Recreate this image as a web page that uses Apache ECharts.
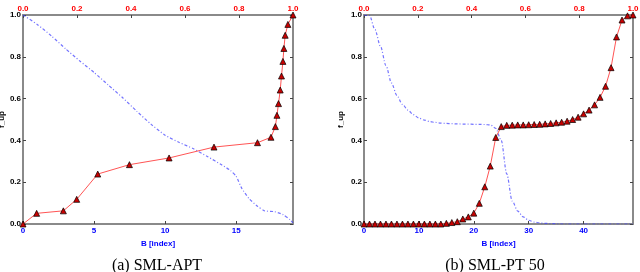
<!DOCTYPE html>
<html>
<head>
<meta charset="utf-8">
<script src="https://cdn.jsdelivr.net/npm/echarts@6/dist/echarts.min.js"></script>
<style>html,body{margin:0;padding:0;background:#fff;}#c{width:640px;height:272px;}</style>
</head>
<body>
<div id="c"></div>
<script>
// ---- data ----
const captions = ['(a) SML-APT', '(b) SML-PT 50'];
const bottomName = 'B [index]';
const topName = 'B';
const yName = 'f_up';

// left panel (SML-APT): red line with triangles [index, f_up]
const leftRed = [[0,0],[0.96,0.051],[2.84,0.063],[3.78,0.118],[5.26,0.239],[7.49,0.284],[10.28,0.316],
  [13.44,0.368],[16.5,0.389],[17.45,0.415],[17.76,0.466],[17.87,0.52],[17.98,0.576],[18.1,0.641],
  [18.19,0.708],[18.29,0.778],[18.36,0.84],[18.45,0.903],[18.64,0.955],[19,1.0]];
// left panel: blue dash-dot line [index, value]
const leftBlue = [[0,1.0],[1,0.955],[2,0.9],[3,0.838],[4,0.78],[5,0.725],[6,0.665],[7,0.605],[8,0.54],
  [9,0.478],[10,0.425],[11,0.39],[12,0.36],[13,0.322],[14,0.282],[14.6,0.256],[15,0.228],[15.4,0.17],
  [15.9,0.122],[16.5,0.085],[17,0.063],[17.7,0.059],[18.3,0.045],[18.8,0.02],[19,0.005]];

// right panel (SML-PT 50): values at index 0..49
const rightIndex = Array.from({length: 50}, (_, i) => i);
const rightRed = [0,0,0,0,0,0,0,0,0,0,0,0,0,0,0,
  0.003,0.007,0.011,0.024,0.034,0.052,0.099,0.178,0.277,0.414,0.466,0.472,0.473,0.474,0.474,
  0.475,0.476,0.477,0.479,0.481,0.484,0.487,0.492,0.5,0.511,0.527,0.545,0.57,0.606,0.659,
  0.748,0.895,0.976,0.996,1.0];
const rightBlue = [1.0,0.998,0.93,0.85,0.758,0.675,0.615,0.572,0.545,0.523,0.507,0.497,0.49,0.486,
  0.483,0.481,0.48,0.479,0.478,0.478,0.477,0.477,0.476,0.474,0.458,0.4,0.24,0.11,0.062,0.034,
  0.018,0.009,0.005,0.003,0.002,0.001,0,0,0,0,0,0,0,0,0,0,0,0,0,0];

const bottomMax = [19, 49];
const bottomInterval = [5, 10];

// ---- chart ----
const chart = echarts.init(document.getElementById('c'), null, {renderer: 'canvas'});
const F = 'Liberation Sans, Arial, sans-serif';
const FS = 8;
const frame = {show: true, onZero: false, lineStyle: {color: '#8a8a8a', width: 2}};
const tick = {show: true, inside: true, length: 3, lineStyle: {color: '#444', width: 1}};
const grids = [
  {left: 23, right: 347, top: 15, bottom: 48, outerBoundsMode: 'none', containLabel: false},
  {left: 364, right: 7, top: 15, bottom: 48, outerBoundsMode: 'none', containLabel: false}
];
const xAxes = [], yAxes = [];
grids.forEach((g, gi) => {
  xAxes.push({type: 'value', gridIndex: gi, position: 'bottom', min: 0, max: bottomMax[gi],
    interval: bottomInterval[gi], axisLine: frame, axisTick: tick, splitLine: {show: false},
    name: bottomName, nameLocation: 'middle', nameGap: 14,
    nameTextStyle: {color: '#0000ff', fontFamily: F, fontWeight: 'bold', fontSize: FS},
    axisLabel: {color: '#0000ff', fontFamily: F, fontWeight: 'bold', fontSize: FS, margin: 3,
      showMaxLabel: false}});
  xAxes.push({type: 'value', gridIndex: gi, position: 'top', min: 0, max: 1, interval: 0.2,
    axisLine: frame, axisTick: tick, splitLine: {show: false},
    name: topName, nameLocation: 'middle', nameGap: 13,
    nameTextStyle: {color: '#ff0000', fontFamily: F, fontWeight: 'bold', fontSize: FS},
    axisLabel: {color: '#ff0000', fontFamily: F, fontWeight: 'bold', fontSize: FS, margin: 2,
      formatter: v => v.toFixed(1)}});
  yAxes.push({type: 'value', gridIndex: gi, position: 'left', min: 0, max: 1, interval: 0.2,
    axisLine: frame, axisTick: tick, splitLine: {show: false},
    name: yName, nameLocation: 'middle', nameRotate: 90, nameGap: gi === 0 ? 17 : 19,
    nameTextStyle: {color: '#000', fontFamily: F, fontWeight: 'bold', fontSize: FS},
    axisLabel: {color: '#000', fontFamily: F, fontWeight: 'bold', fontSize: FS, margin: 2,
      formatter: v => v.toFixed(1)}});
  yAxes.push({type: 'value', gridIndex: gi, position: 'right', min: 0, max: 1, interval: 0.2,
    axisLine: frame, axisTick: tick, splitLine: {show: false}, axisLabel: {show: false}});
});

const redStyle = {
  type: 'line', symbol: 'triangle', symbolSize: 6, clip: false,
  itemStyle: {color: '#c80000', borderColor: '#000', borderWidth: 0.7},
  lineStyle: {color: '#ff5555', width: 1}, z: 3
};
const blueStyle = {
  type: 'line', symbol: 'none', clip: true,
  lineStyle: {color: 'rgba(70,70,255,0.75)', width: 1.2, type: [3, 2, 1, 2]}, z: 2
};

chart.setOption({
  animation: false,
  backgroundColor: '#fff',
  title: [
    {text: captions[0], left: 152, top: 253, textAlign: 'center',
      textStyle: {fontFamily: 'Liberation Serif, Times New Roman, serif', fontWeight: 'normal', fontSize: 16, color: '#000'}},
    {text: captions[1], left: 490, top: 253, textAlign: 'center',
      textStyle: {fontFamily: 'Liberation Serif, Times New Roman, serif', fontWeight: 'normal', fontSize: 16, color: '#000'}}
  ],
  grid: grids,
  xAxis: xAxes,
  yAxis: yAxes,
  series: [
    Object.assign({}, blueStyle, {xAxisIndex: 0, yAxisIndex: 0, data: leftBlue, smooth: 0.2}),
    Object.assign({}, redStyle, {xAxisIndex: 0, yAxisIndex: 0, data: leftRed}),
    Object.assign({}, blueStyle, {xAxisIndex: 2, yAxisIndex: 2, smooth: 0.3, smoothMonotone: 'x',
      data: rightIndex.map((x, i) => [x, rightBlue[i]])}),
    Object.assign({}, redStyle, {xAxisIndex: 2, yAxisIndex: 2,
      data: rightIndex.map((x, i) => [x, rightRed[i]])})
  ]
});
</script>
</body>
</html>
